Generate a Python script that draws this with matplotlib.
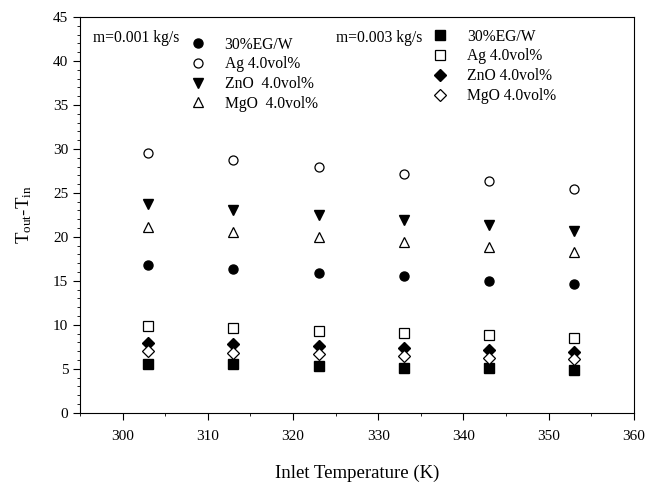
import matplotlib
matplotlib.use("Agg")
import matplotlib.pyplot as plt
from matplotlib.ticker import MultipleLocator

plt.rcParams["font.family"] = "Liberation Serif"
plt.rcParams["mathtext.fontset"] = "custom"
plt.rcParams["mathtext.rm"] = "Liberation Serif"
plt.rcParams["mathtext.it"] = "Liberation Serif"

inlet_temp = [303, 313, 323, 333, 343, 353]

# m = 0.001 kg/s
base_001 = [16.8, 16.4, 15.9, 15.5, 15.0, 14.6]
ag_001 = [29.5, 28.7, 27.9, 27.1, 26.3, 25.5]
zno_001 = [23.7, 23.1, 22.5, 21.9, 21.3, 20.7]
mgo_001 = [21.1, 20.5, 20.0, 19.4, 18.9, 18.3]

# m = 0.003 kg/s
base_003 = [5.6, 5.5, 5.35, 5.15, 5.05, 4.9]
ag_003 = [9.85, 9.6, 9.3, 9.05, 8.8, 8.55]
zno_003 = [7.95, 7.8, 7.55, 7.35, 7.15, 6.95]
mgo_003 = [7.05, 6.85, 6.65, 6.45, 6.25, 6.1]

labels_001 = ["30%EG/W", "Ag 4.0vol%", "ZnO  4.0vol%", "MgO  4.0vol%"]
labels_003 = ["30%EG/W", "Ag 4.0vol%", "ZnO 4.0vol%", "MgO 4.0vol%"]

fig = plt.figure(figsize=(6.56, 4.84), dpi=100)
ax = fig.add_axes([0.122, 0.147, 0.844, 0.818])

ms = 6.5
h1 = []
h1.append(ax.plot(inlet_temp, base_001, "o", color="black", ms=ms)[0])
h1.append(ax.plot(inlet_temp, ag_001, "o", mfc="white", mec="black", mew=0.9, ms=ms)[0])
h1.append(ax.plot(inlet_temp, zno_001, "v", color="black", ms=ms + 0.5)[0])
h1.append(ax.plot(inlet_temp, mgo_001, "^", mfc="white", mec="black", mew=0.9, ms=ms + 0.5)[0])

h2 = []
h2.append(ax.plot(inlet_temp, base_003, "s", color="black", ms=ms)[0])
h2.append(ax.plot(inlet_temp, ag_003, "s", mfc="white", mec="black", mew=0.9, ms=ms)[0])
h2.append(ax.plot(inlet_temp, zno_003, "D", color="black", ms=ms - 0.5)[0])
h2.append(ax.plot(inlet_temp, mgo_003, "D", mfc="white", mec="black", mew=0.9, ms=ms - 0.5)[0])

ax.set_xlim(295, 360)
ax.set_ylim(0, 45)
ax.xaxis.set_major_locator(MultipleLocator(10))
ax.xaxis.set_minor_locator(MultipleLocator(5))
ax.yaxis.set_major_locator(MultipleLocator(5))
ax.yaxis.set_minor_locator(MultipleLocator(1))
ax.tick_params(which="both", direction="out", top=False, right=False, labelsize=11)
ax.tick_params(which="major", length=5, width=0.8)
ax.tick_params(which="minor", length=2.5, width=0.6)
ax.tick_params(axis="x", pad=7)

ax.set_xlabel("Inlet Temperature (K)", fontsize=13.5, labelpad=16)
ax.set_ylabel(r"T$_{\rm out}$-T$_{\rm in}$", fontsize=13.5, labelpad=14)

fs = 11.25
ax.text(0.0235, 0.947, "m=0.001 kg/s", transform=ax.transAxes, fontsize=fs,
        va="center", ha="left")
leg1 = ax.legend(h1, labels_001, loc="upper left", bbox_to_anchor=(0.184, 0.966),
                 frameon=False, fontsize=fs, handletextpad=1.13, labelspacing=0.24,
                 handlelength=1.2, borderaxespad=0)
ax.add_artist(leg1)

ax.text(0.462, 0.947, "m=0.003 kg/s", transform=ax.transAxes, fontsize=fs,
        va="center", ha="left")
ax.legend(h2, labels_003, loc="upper left", bbox_to_anchor=(0.622, 0.986),
          frameon=False, fontsize=fs, handletextpad=1.13, labelspacing=0.24,
          handlelength=1.2, borderaxespad=0)

fig.savefig("out.png", dpi=100)
